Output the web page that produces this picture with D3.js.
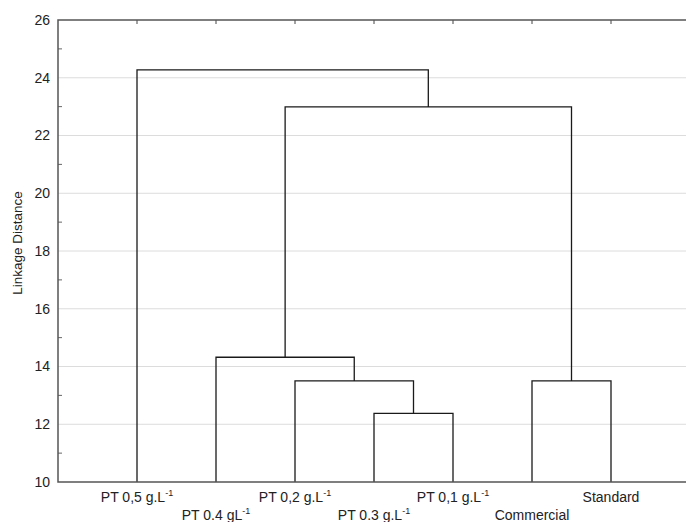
<!DOCTYPE html>
<html>
<head>
<meta charset="utf-8">
<script src="https://cdn.jsdelivr.net/npm/d3@7"></script>
<style>
  html, body { margin: 0; padding: 0; background: #fff; }
  svg { display: block; font-family: "Liberation Sans", Arial, sans-serif; }
</style>
</head>
<body>
<div id="chart"></div>
<script>
// leaves in dendrogram order; sup = superscript suffix on the unit
const leafNames = ["PT 0,5 g.L", "PT 0.4 gL", "PT 0,2 g.L", "PT 0.3 g.L", "PT 0,1 g.L", "Commercial", "Standard"];
const leafSup = ["-1", "-1", "-1", "-1", "-1", "", ""];

// linkage rows: [left id, right id, distance]; ids 0-6 are leaves, 7+ are earlier rows
const linkLeft = [3, 2, 5, 1, 10, 0];
const linkRight = [4, 7, 6, 8, 9, 11];
const linkHeight = [12.38, 13.5, 13.5, 14.32, 22.99, 24.27];

const yTicks = [10, 12, 14, 16, 18, 20, 22, 24, 26];
const yMinor = [11, 13, 15, 17, 19, 21, 23, 25];

const W = 686, H = 522;
const M = { top: 20, left: 58, bottom: 40 };
const plotRight = 690; // frame runs past the window edge

const svg = d3.select("#chart").append("svg")
  .attr("width", W).attr("height", H);

const x = d3.scaleLinear().domain([0, leafNames.length + 1]).range([M.left, plotRight]);
const y = d3.scaleLinear().domain([10, 26]).range([H - M.bottom, M.top]);

// gridlines
svg.append("g")
  .selectAll("line")
  .data(yTicks.slice(1, -1))
  .join("line")
  .attr("x1", M.left).attr("x2", plotRight)
  .attr("y1", d => y(d)).attr("y2", d => y(d))
  .attr("stroke", "#dcdcdc").attr("stroke-width", 1);

// y axis labels + inner ticks
const yAxis = svg.append("g")
  .attr("transform", `translate(${M.left},0)`)
  .call(d3.axisLeft(y).tickValues(yTicks).tickSize(0).tickPadding(8));
yAxis.select(".domain").remove();
yAxis.selectAll("text")
  .attr("font-size", 14).attr("fill", "#222")
  .attr("font-family", "Liberation Sans, Arial, sans-serif");

svg.append("g")
  .selectAll("line")
  .data(yMinor)
  .join("line")
  .attr("x1", M.left).attr("x2", M.left + 4)
  .attr("y1", d => y(d)).attr("y2", d => y(d))
  .attr("stroke", "#666").attr("stroke-width", 1);

// top ticks at leaf positions
svg.append("g")
  .selectAll("line")
  .data(leafNames.map((_, i) => i + 1))
  .join("line")
  .attr("x1", d => x(d)).attr("x2", d => x(d))
  .attr("y1", M.top).attr("y2", M.top + 4)
  .attr("stroke", "#444").attr("stroke-width", 1);

svg.append("text")
  .attr("transform", `translate(22,243) rotate(-90)`)
  .attr("text-anchor", "middle")
  .attr("font-size", 13.5)
  .attr("fill", "#222")
  .text("Linkage Distance");

// build node positions from the linkage
const nodes = leafNames.map((_, i) => ({ pos: i + 1, h: 10 }));
linkLeft.forEach((l, i) => {
  const a = nodes[l], b = nodes[linkRight[i]];
  nodes.push({ pos: (a.pos + b.pos) / 2, h: linkHeight[i], a, b });
});

const links = nodes.filter(n => n.a);
svg.append("g")
  .selectAll("path")
  .data(links)
  .join("path")
  .attr("fill", "none")
  .attr("stroke", "#1a1a1a")
  .attr("stroke-width", 1.3)
  .attr("d", n => {
    const p = d3.path();
    p.moveTo(x(n.a.pos), y(n.a.h));
    p.lineTo(x(n.a.pos), y(n.h));
    p.lineTo(x(n.b.pos), y(n.h));
    p.lineTo(x(n.b.pos), y(n.b.h));
    return p.toString();
  });

// frame
svg.append("rect")
  .attr("x", M.left).attr("y", M.top)
  .attr("width", plotRight - M.left).attr("height", y(10) - M.top)
  .attr("fill", "none").attr("stroke", "#555").attr("stroke-width", 1.5);

// leaf labels, staggered in two rows
const labels = svg.append("g")
  .selectAll("text")
  .data(leafNames)
  .join("text")
  .attr("x", (d, i) => x(i + 1))
  .attr("y", (d, i) => i % 2 === 0 ? 502 : 520)
  .attr("text-anchor", "middle")
  .attr("font-size", 14)
  .attr("fill", "#222");
labels.append("tspan").text(d => d);
labels.append("tspan")
  .attr("font-size", 9)
  .attr("dy", -6)
  .text((d, i) => leafSup[i]);
</script>
</body>
</html>
